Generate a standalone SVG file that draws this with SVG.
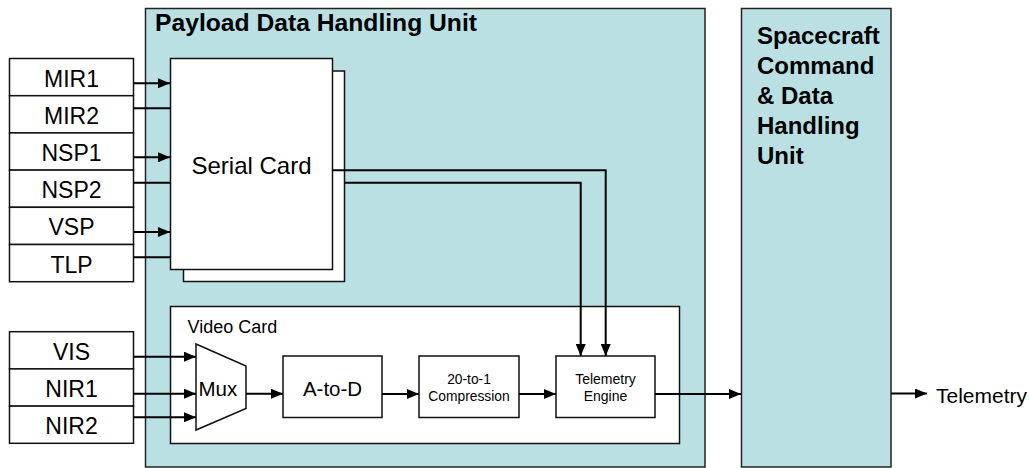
<svg xmlns="http://www.w3.org/2000/svg" width="1030" height="468" viewBox="0 0 1030 468">
<style>
.unit{fill:#bbe0e3;stroke:#222;stroke-width:1.5}
.box{fill:#fff;stroke:#111;stroke-width:1.5}
.con{fill:none;stroke:#000;stroke-width:2}
.t{font-family:"Liberation Sans",Arial,sans-serif;fill:#000}
.b{font-weight:bold}
.m{text-anchor:middle}
</style>
<defs>
<marker id="ah" markerUnits="userSpaceOnUse" markerWidth="12" markerHeight="10" refX="12" refY="5" orient="auto">
<path d="M0,0 L12,5 L0,10 z" fill="#000"/>
</marker>
</defs>
<g id="pdhu">
<rect class="unit" x="145.5" y="8.5" width="559.5" height="458.5"/>
<text class="t b" x="155" y="31" font-size="23.5" textLength="322" lengthAdjust="spacingAndGlyphs">Payload Data Handling Unit</text>
</g>
<g id="scdhu">
<rect class="unit" x="741.5" y="8.5" width="149.5" height="458.5"/>
<text class="t b" font-size="24"><tspan x="757" y="43.5">Spacecraft</tspan><tspan x="757" y="73.5">Command</tspan><tspan x="757" y="103.5">&amp; Data</tspan><tspan x="757" y="133.5">Handling</tspan><tspan x="757" y="163.5">Unit</tspan></text>
</g>
<g id="inputs-serial">
<g id="mir1"><rect class="box" x="9.5" y="58.5" width="124" height="37.2"/><text class="t m" x="71.5" y="86.5" font-size="23">MIR1</text></g>
<g id="mir2"><rect class="box" x="9.5" y="95.7" width="124" height="37.2"/><text class="t m" x="71.5" y="123.7" font-size="23">MIR2</text></g>
<g id="nsp1"><rect class="box" x="9.5" y="132.9" width="124" height="37.2"/><text class="t m" x="71.5" y="160.9" font-size="23">NSP1</text></g>
<g id="nsp2"><rect class="box" x="9.5" y="170.1" width="124" height="37.2"/><text class="t m" x="71.5" y="198.1" font-size="23">NSP2</text></g>
<g id="vsp"><rect class="box" x="9.5" y="207.3" width="124" height="37.2"/><text class="t m" x="71.5" y="235.3" font-size="23">VSP</text></g>
<g id="tlp"><rect class="box" x="9.5" y="244.5" width="124" height="37.2"/><text class="t m" x="71.5" y="272.5" font-size="23">TLP</text></g>
</g>
<g id="inputs-video">
<g id="vis"><rect class="box" x="9.5" y="331.7" width="124" height="37.2"/><text class="t m" x="71.5" y="359.7" font-size="23">VIS</text></g>
<g id="nir1"><rect class="box" x="9.5" y="368.9" width="124" height="37.2"/><text class="t m" x="71.5" y="396.9" font-size="23">NIR1</text></g>
<g id="nir2"><rect class="box" x="9.5" y="406.1" width="124" height="37.2"/><text class="t m" x="71.5" y="434.1" font-size="23">NIR2</text></g>
</g>
<g id="serial-card">
<rect class="box" x="183.5" y="71" width="161" height="210.5"/>
<rect class="box" x="170.5" y="58.5" width="162" height="211"/>
<text class="t m" x="251.5" y="173.5" font-size="24">Serial Card</text>
</g>
<g id="video-card">
<rect class="box" x="170.5" y="306.5" width="509" height="137"/>
<text class="t" x="187.5" y="332.5" font-size="18">Video Card</text>
</g>
<g id="mux">
<polygon class="box" points="196,344 246,366 246,408.5 196,430"/>
<text class="t" x="198.5" y="396" font-size="20.5">Mux</text>
</g>
<g id="atod">
<rect class="box" x="283" y="356" width="99" height="61.5"/>
<text class="t m" x="332.5" y="396" font-size="20.5">A-to-D</text>
</g>
<g id="compression">
<rect class="box" x="419" y="356" width="100" height="61.5"/>
<text class="t m" font-size="13.8"><tspan x="469" y="383.5">20-to-1</tspan><tspan x="469" y="401">Compression</tspan></text>
</g>
<g id="telemetry-engine">
<rect class="box" x="556" y="356" width="99" height="61.5"/>
<text class="t m" font-size="14"><tspan x="605.5" y="384">Telemetry</tspan><tspan x="605.5" y="401">Engine</tspan></text>
</g>
<text class="t" x="936" y="403" font-size="21">Telemetry</text>
<g id="connectors">
<path class="con" d="M133.5,83.3 H170" marker-end="url(#ah)"/>
<path class="con" d="M133.5,108.3 H170.5"/>
<path class="con" d="M133.5,157.3 H170" marker-end="url(#ah)"/>
<path class="con" d="M133.5,182.7 H170.5"/>
<path class="con" d="M133.5,232 H170" marker-end="url(#ah)"/>
<path class="con" d="M133.5,257.3 H170.5"/>
<path class="con" d="M332.5,170.3 H605.7 V356" marker-end="url(#ah)"/>
<path class="con" d="M344.5,182.7 H580.7 V356" marker-end="url(#ah)"/>
<path class="con" d="M133.5,356.7 H196" marker-end="url(#ah)"/>
<path class="con" d="M133.5,393.7 H196" marker-end="url(#ah)"/>
<path class="con" d="M133.5,417.3 H196" marker-end="url(#ah)"/>
<path class="con" d="M246,393.7 H283" marker-end="url(#ah)"/>
<path class="con" d="M382,394 H419" marker-end="url(#ah)"/>
<path class="con" d="M519,394 H556" marker-end="url(#ah)"/>
<path class="con" d="M655,394 H741" marker-end="url(#ah)"/>
<path class="con" d="M891,393.5 H927" marker-end="url(#ah)"/>
</g>
</svg>
